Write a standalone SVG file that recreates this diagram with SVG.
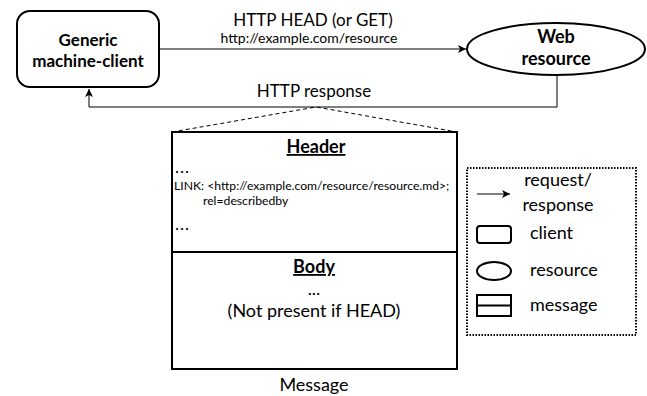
<svg xmlns="http://www.w3.org/2000/svg" width="647" height="396" viewBox="0 0 647 396">
<style>
text{font-family:Lato,"Open Sans","Liberation Sans",sans-serif;fill:#000}
.b{font-weight:bold;font-size:17px}
.r{font-size:17px}
.l{font-size:18px}
.s{font-size:14px}
.t{font-size:12.2px}
.c{text-anchor:middle}
.thick{fill:#fff;stroke:#000;stroke-width:2}
.conn{fill:none;stroke:#000;stroke-width:1}
.dash{fill:none;stroke:#000;stroke-width:1;stroke-dasharray:4 3}
</style>
<defs>
<marker id="ah" markerWidth="10" markerHeight="10" refX="9" refY="5" orient="auto" markerUnits="userSpaceOnUse">
<path d="M1,1 L9,5 L1,9 L3,5 Z" fill="#000"/>
</marker>
</defs>
<rect width="647" height="396" fill="#fff"/>
<g id="connectors">
<line class="conn" x1="159" y1="49" x2="466" y2="49" marker-end="url(#ah)"/>
<polyline class="conn" points="557,75 557,107 89,107 89,89" marker-end="url(#ah)"/>
<polyline class="dash" points="172,132 316,107 457,132"/>
<text class="r c" x="313" y="26">HTTP HEAD (or GET)</text>
<text class="s c" x="309" y="43">http://example.com/resource</text>
<text class="r c" x="314" y="97">HTTP response</text>
</g>
<g id="client">
<rect class="thick" x="17" y="11" width="142" height="76" rx="13"/>
<text class="b c" x="88" y="46">Generic</text>
<text class="b c" x="88" y="67">machine-client</text>
</g>
<g id="resource">
<ellipse class="thick" cx="556" cy="49" rx="89" ry="26"/>
<text class="b c" x="556" y="43" style="font-size:18px">Web</text>
<text class="b c" x="556" y="65" style="font-size:18px">resource</text>
</g>
<g id="message">
<rect class="thick" x="172" y="132" width="285" height="237"/>
<line class="thick" x1="172" y1="252" x2="457" y2="252"/>
<text class="b c" x="316" y="153" text-decoration="underline" style="font-size:18px">Header</text>
<text class="r" x="175" y="173" letter-spacing="1">...</text>
<text class="t" x="174" y="190">LINK: &lt;http://example.com/resource/resource.md&gt;;</text>
<text class="t" x="203" y="205">rel=describedby</text>
<text class="r" x="175" y="230" letter-spacing="1">...</text>
<text class="b c" x="314" y="273" text-decoration="underline" style="font-size:18px">Body</text>
<text class="l c" x="314" y="295">...</text>
<text class="l c" x="314" y="317">(Not present if HEAD)</text>
<text class="l c" x="314" y="391">Message</text>
</g>
<g id="legend">
<rect x="467" y="168" width="169" height="167" fill="none" stroke="#000" stroke-width="2" stroke-dasharray="1.5 1.5"/>
<line class="conn" x1="477" y1="194" x2="510" y2="194" marker-end="url(#ah)"/>
<text class="l c" x="558" y="186">request/</text>
<text class="l c" x="558" y="211">response</text>
<rect x="477" y="226" width="34" height="17" rx="3" fill="#fff" stroke="#000" stroke-width="2"/>
<text class="l" x="530" y="239">client</text>
<ellipse cx="494" cy="271" rx="17" ry="9" fill="#fff" stroke="#000" stroke-width="2"/>
<text class="l" x="530" y="276">resource</text>
<rect x="477" y="295" width="34" height="21" fill="#fff" stroke="#000" stroke-width="2"/>
<line x1="477" y1="305.5" x2="511" y2="305.5" stroke="#000" stroke-width="2"/>
<text class="l" x="530" y="311">message</text>
</g>
</svg>
